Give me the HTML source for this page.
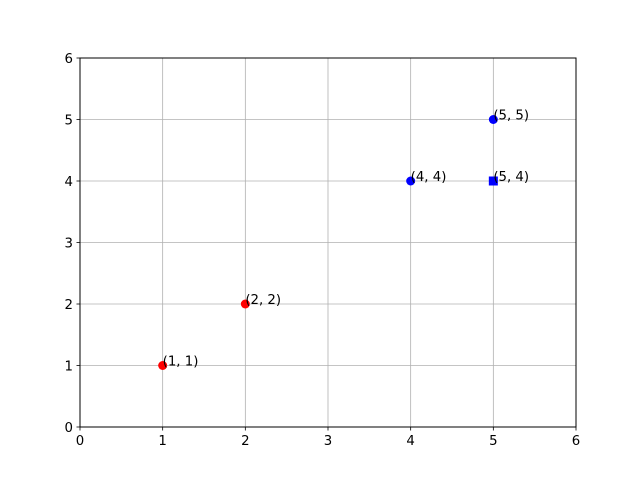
<!DOCTYPE html>
<html><head><meta charset="utf-8"><style>body{margin:0;background:#fff}svg{display:block;font-family:"DejaVu Sans","Liberation Sans",sans-serif}</style></head>
<body>
<svg id="chart" width="640" height="480" viewBox="0 0 640 480">
<rect x="0" y="0" width="640" height="480" fill="#fff"/>
<g id="grid"></g>
<g id="marks"></g>
<rect x="80" y="58" width="496" height="369" fill="none" stroke="#000" stroke-width="1"/>
<g id="ticks"></g>
</svg>
<script>
const xTicks=[0,1,2,3,4,5,6];
const yTicks=[0,1,2,3,4,5,6];
const xs=[1,2,4,5,5];
const ys=[1,2,4,5,4];
const colors=['red','red','blue','blue','blue'];
const shapes=['circle','circle','circle','circle','square'];
const labels=['(1, 1)','(2, 2)','(4, 4)','(5, 5)','(5, 4)'];
const L=80,R=576,T=58,B=427;
const sx=v=>L+(v-0)/(6-0)*(R-L);
const sy=v=>B-(v-0)/(6-0)*(B-T);
const NS='http://www.w3.org/2000/svg';
function mk(tag,attrs,parent){const e=document.createElementNS(NS,tag);for(const k in attrs)e.setAttribute(k,attrs[k]);parent.appendChild(e);return e;}
const grid=document.getElementById('grid'),ticks=document.getElementById('ticks'),marks=document.getElementById('marks');
xTicks.forEach(t=>{const x=sx(t);
 const g=mk('line',{x1:x,x2:x,y1:T,y2:B,stroke:'#b0b0b0','stroke-width':0.8},grid);
 
 
 const tk=mk('line',{x1:x,x2:x,y1:B,y2:B+3.5,stroke:'#000','stroke-width':0.8},ticks);
 
 
 const tx=mk('text',{x:x,y:B+18,'text-anchor':'middle','font-size':'13.3px'},ticks);tx.textContent=t;
 
 
});
yTicks.forEach(t=>{const y=sy(t);
 const g=mk('line',{x1:L,x2:R,y1:y,y2:y,stroke:'#b0b0b0','stroke-width':0.8},grid);
 
 
 const tk=mk('line',{x1:L-3.5,x2:L,y1:y,y2:y,stroke:'#000','stroke-width':0.8},ticks);
 
 
 const tx=mk('text',{x:L-7,y:y+5,'text-anchor':'end','font-size':'13.3px'},ticks);tx.textContent=t;
 
 
});
xs.forEach((v,i)=>{const x=sx(v),y=sy(ys[i]);let m;
 if(shapes[i]==='square'){m=mk('rect',{x:x-4.5,y:y-4.5,width:9,height:9,fill:colors[i]},marks);}
 else{m=mk('circle',{cx:x,cy:y,r:4.5,fill:colors[i]},marks);}
 
 
 const tx=mk('text',{x:x,y:y,'font-size':'13.3px'},marks);tx.textContent=labels[i];
 
 
});
</script>
</body></html>
